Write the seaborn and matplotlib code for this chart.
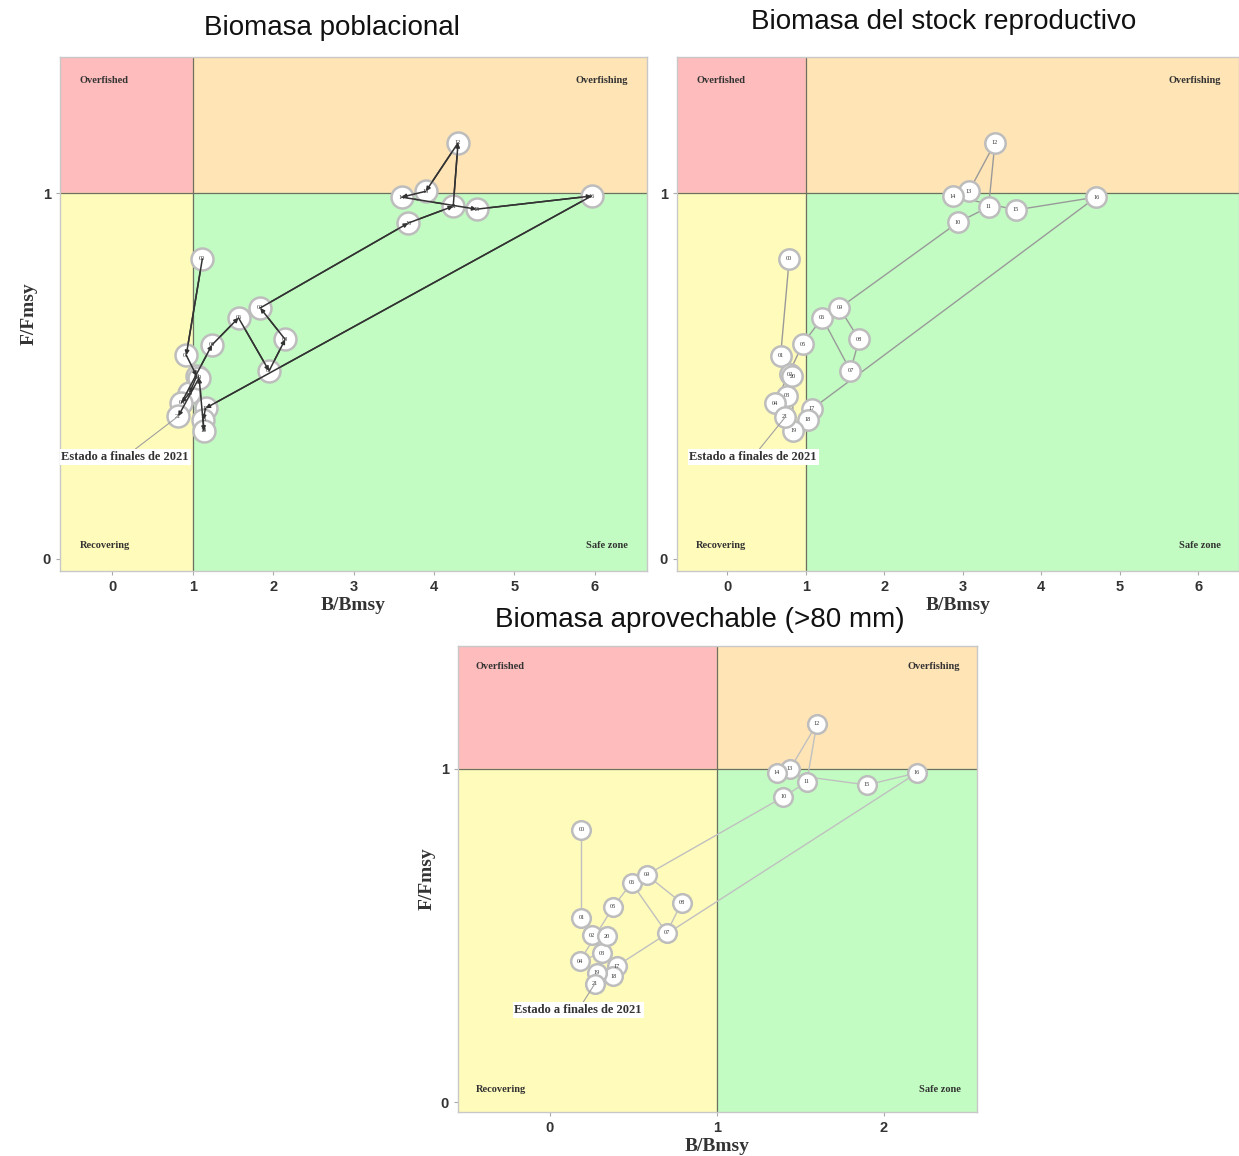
import matplotlib
matplotlib.use("Agg")
import matplotlib.pyplot as plt
import numpy as np
import pandas as pd
import seaborn as sns
from matplotlib.patches import Rectangle

# Years shown in the circles (two digits)
years = ["00", "01", "02", "03", "04", "05", "06", "07", "08", "09", "10",
         "11", "12", "13", "14", "15", "16", "17", "18", "19", "20", "21"]

# Biomasa poblacional
pob_b = [1.12, 0.92, 1.05, 0.96, 0.86, 1.24, 1.57, 1.95, 2.15, 1.84, 3.68,
         4.24, 4.30, 3.90, 3.60, 4.53, 5.96, 1.16, 1.13, 1.14, 1.08, 0.82]
pob_f = [0.82, 0.557, 0.50, 0.453, 0.427, 0.585, 0.659, 0.514, 0.60, 0.686, 0.918,
         0.964, 1.137, 1.005, 0.989, 0.956, 0.992, 0.412, 0.38, 0.35, 0.495, 0.39]

# Biomasa del stock reproductivo
rep_b = [0.79, 0.68, 0.80, 0.76, 0.61, 0.96, 1.21, 1.57, 1.68, 1.43, 2.94,
         3.33, 3.41, 3.08, 2.87, 3.68, 4.70, 1.08, 1.03, 0.84, 0.83, 0.74]
rep_f = [0.82, 0.555, 0.505, 0.446, 0.426, 0.587, 0.659, 0.514, 0.60, 0.686, 0.92,
         0.962, 1.137, 1.005, 0.992, 0.954, 0.989, 0.41, 0.38, 0.35, 0.50, 0.388]

# Biomasa aprovechable (>80 mm)
apr_b = [0.19, 0.19, 0.25, 0.31, 0.18, 0.38, 0.49, 0.70, 0.79, 0.58, 1.40,
         1.54, 1.60, 1.44, 1.36, 1.90, 2.20, 0.40, 0.38, 0.28, 0.34, 0.27]
apr_f = [0.817, 0.553, 0.50, 0.447, 0.423, 0.586, 0.658, 0.508, 0.598, 0.682, 0.916,
         0.961, 1.135, 1.0, 0.988, 0.952, 0.988, 0.408, 0.378, 0.388, 0.497, 0.355]

titles = ["Biomasa poblacional", "Biomasa del stock reproductivo",
          "Biomasa aprovechable (>80 mm)"]

sns.set_style("white")
plt.rcParams["font.family"] = ["Liberation Sans", "DejaVu Sans"]

SERIF = ["Liberation Serif", "DejaVu Serif"]
QUAD = {"red": "#ffbcbc", "orange": "#ffe4b6", "yellow": "#fffbbb", "green": "#c2fcc2"}


def kobe_panel(ax, b, f, xlim, ylim, xticks, line_color, line_width, size,
               arrows=False, note_xy=(0.16, 0.279), ylabel=True):
    ax.set_xlim(*xlim)
    ax.set_ylim(*ylim)
    x0, x1 = xlim
    y0, y1 = ylim
    ax.add_patch(Rectangle((x0, 1), 1 - x0, y1 - 1, color=QUAD["red"], zorder=0))
    ax.add_patch(Rectangle((1, 1), x1 - 1, y1 - 1, color=QUAD["orange"], zorder=0))
    ax.add_patch(Rectangle((x0, y0), 1 - x0, 1 - y0, color=QUAD["yellow"], zorder=0))
    ax.add_patch(Rectangle((1, y0), x1 - 1, 1 - y0, color=QUAD["green"], zorder=0))
    ax.axvline(1, color="#6f6f60", lw=0.9, zorder=1)
    ax.axhline(1, color="#6f6f60", lw=0.9, zorder=1)

    df = pd.DataFrame({"b": b, "f": f, "year": years})
    sns.lineplot(data=df, x="b", y="f", sort=False, estimator=None,
                 color=line_color, lw=line_width, ax=ax, zorder=2)
    sns.scatterplot(data=df, x="b", y="f", s=size, color="white",
                    edgecolor="#bdbdbd", linewidth=1.8, ax=ax, zorder=3)
    for _, r in df.iterrows():
        ax.text(r["b"], r["f"], r["year"], fontsize=4.5, ha="center",
                va="center", color="#333333", family=SERIF, zorder=4)
    if arrows:
        for i in range(1, len(df)):
            ax.annotate("", xy=(df["b"][i], df["f"][i]),
                        xytext=(df["b"][i - 1], df["f"][i - 1]),
                        arrowprops=dict(arrowstyle="-|>", color="#333333",
                                        lw=line_width, mutation_scale=6,
                                        shrinkA=0, shrinkB=0), zorder=5)

    # final state annotation
    ax.annotate("Estado a finales de 2021", xy=(df["b"].iloc[-1], df["f"].iloc[-1]),
                xytext=note_xy, fontsize=9, fontweight="bold", family=SERIF,
                ha="center", va="center", color="#333333",
                bbox=dict(boxstyle="square,pad=0.15", fc="white", ec="none"),
                arrowprops=dict(arrowstyle="-", color="#a0a0a0", lw=0.8,
                                shrinkA=0, shrinkB=0), zorder=6)

    kw = dict(transform=ax.transAxes, fontsize=7.5, fontweight="bold",
              family=SERIF, color="#333333", zorder=6)
    ax.text(0.034, 0.955, "Overfished", ha="left", va="center", **kw)
    ax.text(0.968, 0.955, "Overfishing", ha="right", va="center", **kw)
    ax.text(0.034, 0.049, "Recovering", ha="left", va="center", **kw)
    ax.text(0.968, 0.049, "Safe zone", ha="right", va="center", **kw)

    ax.set_xticks(xticks)
    ax.set_yticks([0, 1])
    ax.tick_params(axis="both", length=3, width=0.8, color="#aaaaaa",
                   labelsize=10.5, labelcolor="#333333", bottom=True, left=True)
    for lab in ax.get_xticklabels() + ax.get_yticklabels():
        lab.set_fontweight("bold")
    for sp in ax.spines.values():
        sp.set_color("#c8c8c8")
        sp.set_linewidth(1.0)
    ax.set_xlabel("B/Bmsy", fontsize=14, fontweight="bold", family=SERIF,
                  color="#333333", labelpad=2)
    if ylabel:
        ax.set_ylabel("F/Fmsy", fontsize=14, fontweight="bold", family=SERIF,
                      color="#333333", labelpad=4)
    else:
        ax.set_ylabel("")


W, H = 1239, 1156
fig = plt.figure(figsize=(W / 100, H / 100), dpi=100)


def axes_px(left, top, right, bottom):
    return fig.add_axes([left / W, 1 - bottom / H, (right - left) / W, (bottom - top) / H])


ax1 = axes_px(60, 57, 647, 571)
kobe_panel(ax1, pob_b, pob_f, (-0.65, 6.65), (-0.033, 1.372), range(0, 7),
           "#333333", 1.1, 250, arrows=True, note_xy=(0.16, 0.279))

ax2 = axes_px(677, 57, 1239, 571)
kobe_panel(ax2, rep_b, rep_f, (-0.64, 6.52), (-0.033, 1.372), range(0, 7),
           "#9a9a9a", 1.0, 215, note_xy=(0.33, 0.279), ylabel=False)

ax3 = axes_px(458, 646, 977, 1112)
kobe_panel(ax3, apr_b, apr_f, (-0.55, 2.56), (-0.03, 1.369), range(0, 3),
           "#c0c0c0", 1.0, 180, note_xy=(0.17, 0.276))

fig.text(332 / W, 1 - 28 / H, titles[0], fontsize=20, ha="center", va="center",
         color="#111111")
fig.text(944 / W, 1 - 22 / H, titles[1], fontsize=20, ha="center", va="center",
         color="#111111")
fig.text(700 / W, 1 - 620 / H, titles[2], fontsize=20, ha="center", va="center",
         color="#111111")

fig.savefig("out.png", dpi=100)
